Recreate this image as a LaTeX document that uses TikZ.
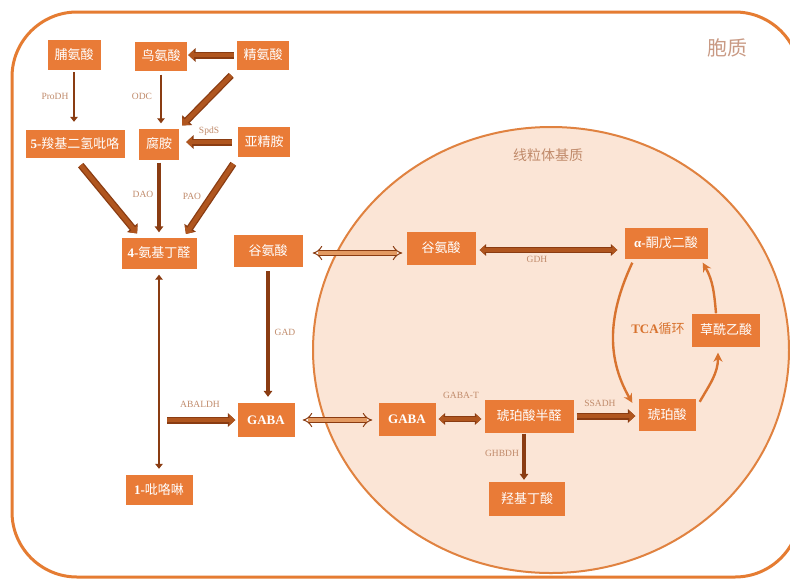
\documentclass[tikz,border=0pt]{standalone}
\usepackage{fontspec}
\setmainfont{Liberation Serif}
\newfontfamily\cjk{Noto Sans CJK SC}
\usetikzlibrary{arrows.meta}
\definecolor{boxc}{HTML}{E97B37}
\definecolor{arrD}{HTML}{8A3C12}
\definecolor{arrM}{HTML}{B0561F}
\definecolor{arrL}{HTML}{E39A62}
\definecolor{labc}{HTML}{C08A6A}
\definecolor{mitof}{HTML}{FBE5D6}
\definecolor{mitod}{HTML}{E08240}
\definecolor{outc}{HTML}{E57C32}
\definecolor{tcac}{HTML}{D8732F}
\definecolor{cytc}{HTML}{C99A84}
\newcommand\zh[1]{{\cjk\mdseries #1}}
\begin{document}
\begin{tikzpicture}[x=1pt,y=-1pt,
  box/.style={fill=boxc, text=white, inner sep=0pt, font=\fontsize{13}{15}\selectfont\bfseries},
  lab/.style={text=labc, font=\fontsize{9.5}{11}\selectfont, inner sep=0pt},
  thinarr/.style={draw=arrD, line width=2.8pt, -{Triangle[length=5pt,width=7.5pt]}},
  medarr/.style={draw=arrD, line width=3.6pt, -{Triangle[length=6pt,width=8.5pt]}},
  fatarr/.style={draw=arrM, line width=4.4pt, -{Triangle[length=6pt,width=10.5pt]},
    preaction={draw=arrD, line width=7pt, -{Triangle[length=7.5pt,width=13.5pt]}}},
  fatboth/.style={draw=arrM, line width=3.2pt, {Triangle[length=5pt,width=9pt]}-{Triangle[length=5pt,width=9pt]},
    preaction={draw=arrD, line width=5.4pt, {Triangle[length=6.5pt,width=11.5pt]}-{Triangle[length=6.5pt,width=11.5pt]}}},
  hollow/.style={draw=arrD, line width=1pt, double=arrL, double distance=4pt, {Implies}-{Implies}},
  tca/.style={draw=tcac, line width=2.4pt, -{Stealth[length=9pt,width=9pt]}}
]
\useasboundingbox (0,0) rectangle (790,579);
\fill[white] (0,0) rectangle (790,579);
\begin{scope}
  \clip (0,0) rectangle (790,579);
  \draw[outc, line width=3pt, rounded corners=65pt] (12,12) rectangle (800,577);
\end{scope}
\draw[fill=mitof, draw=mitod, line width=2pt] (551,350) ellipse [x radius=238, y radius=223];

% labels of compartments
\node[text=cytc, font=\fontsize{20}{22}\selectfont\cjk] (cyt) at (727,48) {胞质};
\node[text=labc, font=\fontsize{14}{16}\selectfont\cjk] (mitl) at (548,155) {线粒体基质};
\node[text=tcac, font=\fontsize{13}{15}\selectfont\bfseries] (tcal) at (658,329) {TCA\zh{循环}};

% boxes
\node[box, minimum width=53pt, minimum height=30pt] (pro) at (74,55) {\zh{脯氨酸}};
\node[box, minimum width=52pt, minimum height=29pt] (orn) at (161,56) {\zh{鸟氨酸}};
\node[box, minimum width=52pt, minimum height=29pt] (arg) at (263,55) {\zh{精氨酸}};
\node[box, minimum width=99pt, minimum height=28pt] (p5c) at (75,144) {5-\zh{羧基二氢吡咯}};
\node[box, minimum width=40pt, minimum height=31pt] (put) at (159,144) {\zh{腐胺}};
\node[box, minimum width=52pt, minimum height=30pt] (spd) at (264,142) {\zh{亚精胺}};
\node[box, minimum width=75pt, minimum height=31pt] (ald) at (159,253) {4-\zh{氨基丁醛}};
\node[box, minimum width=69pt, minimum height=32pt] (gluL) at (268,251) {\zh{谷氨酸}};
\node[box, minimum width=57pt, minimum height=34pt] (gabaL) at (266,420) {GABA};
\node[box, minimum width=67pt, minimum height=30pt] (pyr) at (159,490) {1-\zh{吡咯啉}};
\node[box, minimum width=69pt, minimum height=33pt] (gluM) at (441,248) {\zh{谷氨酸}};
\node[box, minimum width=83pt, minimum height=31pt] (akg) at (666,243) {α-\zh{酮戊二酸}};
\node[box, minimum width=68pt, minimum height=33pt] (oaa) at (726,330) {\zh{草酰乙酸}};
\node[box, minimum width=57pt, minimum height=33pt] (gabaM) at (407,419) {GABA};
\node[box, minimum width=89pt, minimum height=33pt] (ssa) at (529,416) {\zh{琥珀酸半醛}};
\node[box, minimum width=57pt, minimum height=32pt] (suc) at (667,415) {\zh{琥珀酸}};
\node[box, minimum width=76pt, minimum height=34pt] (ghb) at (527,499) {\zh{羟基丁酸}};

% cytoplasm arrows
\draw[thinarr, shorten <=2pt, shorten >=8pt] (pro.south) -- (pro.south |- p5c.north);
\draw[thinarr, shorten <=4pt, shorten >=5pt] (orn.south) -- (orn.south |- put.north);
\draw[fatarr, shorten <=3pt, shorten >=1pt] (arg.west) -- (arg.west -| orn.east);
\draw[fatarr, shorten <=8pt, shorten >=4pt] (arg.south west) -- (put.north east);
\draw[fatarr, shorten <=6pt, shorten >=7pt] (spd.west) -- (spd.west -| put.east);
\draw[fatarr, shorten <=9pt, shorten >=5pt] (p5c.south) -- ([xshift=19pt]ald.north west);
\draw[medarr, shorten <=3pt, shorten >=5pt] (put.south) -- (ald.north);
\draw[fatarr, shorten <=8pt, shorten >=4pt] (spd.south west) -- ([xshift=-13pt]ald.north east);
\draw[thinarr, {Triangle[length=5pt,width=7.5pt]}-{Triangle[length=5pt,width=7.5pt]}, shorten <=6pt, shorten >=6pt] (ald.south) -- (pyr.north);
\coordinate (abl) at (ald.south |- gabaL.west);
\draw[fatarr, shorten <=8pt, shorten >=2pt] (abl) -- (gabaL.west);
\draw[medarr, shorten <=4pt, shorten >=6pt] (gluL.south) -- (gluL.south |- gabaL.north);

% exchange arrows
\draw[hollow, shorten <=10pt, shorten >=4pt] ([yshift=-2pt]gluL.east) -- ([yshift=-2pt]gluL.east -| gluM.west);
\draw[hollow, shorten <=8pt, shorten >=6pt] (gabaL.east) -- (gabaL.east -| gabaM.west);

% mitochondrial arrows
\draw[fatboth, shorten <=4pt, shorten >=7pt] ([yshift=-2pt]gluM.east) -- ([yshift=-2pt]gluM.east -| akg.west);
\draw[fatboth, shorten <=3pt, shorten >=3pt] (gabaM.east) -- (gabaM.east -| ssa.west);
\draw[fatarr, line width=3.2pt, preaction={line width=4.8pt}, shorten <=3pt, shorten >=3pt] (ssa.east) -- (ssa.east -| suc.west);
\draw[medarr, shorten <=1pt, shorten >=2pt] ([xshift=-5pt]ssa.south) -- ([xshift=-5pt]ssa.south |- ghb.north);

% TCA cycle
\draw[tca] ([xshift=8pt,yshift=-4pt]akg.south west) to[out=245, in=120] ([xshift=-6pt,yshift=-4pt]suc.north west);
\draw[tca] ([xshift=4pt,yshift=-3pt]suc.north east) to[out=60, in=270] ([xshift=-8pt,yshift=-6pt]oaa.south);
\draw[tca] ([xshift=-10pt]oaa.north) to[out=95, in=-60] ([xshift=-5pt,yshift=-4pt]akg.south east);

% enzyme labels
\node[lab] (l1) at (55,96) {ProDH};
\node[lab] (l2) at (142,96) {ODC};
\node[lab] (l3) at (209,131) {SpdS};
\node[lab] (l4) at (143,194) {DAO};
\node[lab] (l5) at (192,196) {PAO};
\node[lab] (l6) at (285,332) {GAD};
\node[lab] (l7) at (200,404) {ABALDH};
\node[lab] (l8) at (537,259) {GDH};
\node[lab] (l9) at (461,395) {GABA-T};
\node[lab] (l10) at (600,403) {SSADH};
\node[lab] (l11) at (502,453) {GHBDH};
\end{tikzpicture}
\end{document}
